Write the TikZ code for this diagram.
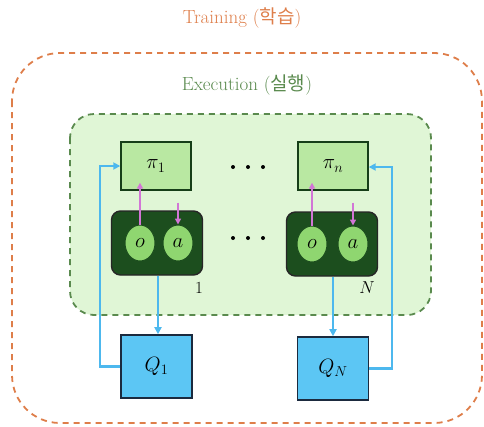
\documentclass[tikz,border=0pt]{standalone}
\usepackage{fontspec}
\newfontfamily\krfont{Noto Sans CJK KR}
\usetikzlibrary{arrows.meta,shapes.geometric}
\definecolor{trainorange}{HTML}{DE7E4A}
\definecolor{execgreen}{HTML}{5A8A4E}
\definecolor{execfill}{HTML}{E0F6D6}
\definecolor{polfill}{HTML}{B9E8A2}
\definecolor{envdark}{HTML}{1C4E1E}
\definecolor{obsfill}{HTML}{8FD670}
\definecolor{linkpink}{HTML}{D276D6}
\definecolor{linkblue}{HTML}{4DB8EE}
\definecolor{qfill}{HTML}{5CC6F4}
\definecolor{qedge}{HTML}{1B2A3E}
\begin{document}
\begin{tikzpicture}[x=1pt,y=-1pt,
  policy/.style={draw=envdark!80!black, line width=1.4pt, fill=polfill, minimum width=70pt, minimum height=48pt, inner sep=0pt, font=\fontsize{21}{24}\selectfont},
  envbox/.style={draw=black!85, line width=1.4pt, fill=envdark, rounded corners=9pt, minimum width=91pt, minimum height=64pt, inner sep=0pt},
  slot/.style={ellipse, draw=envdark, line width=1pt, fill=obsfill, minimum width=30pt, minimum height=36pt, inner sep=0pt, font=\fontsize{22}{24}\selectfont},
  critic/.style={draw=qedge, line width=1.6pt, fill=qfill, minimum width=71pt, minimum height=63pt, inner sep=0pt, font=\fontsize{21}{24}\selectfont},
  msg/.style={draw=linkpink, line width=2pt, -{Triangle[length=6pt,width=6pt]}},
  feed/.style={draw=linkblue, line width=2.4pt, -{Triangle[length=7pt,width=7pt]}},
  dotmark/.style={circle, fill=black, inner sep=0pt, minimum size=4pt}]
\useasboundingbox (0,0) rectangle (484,426);
% outer training region
\draw[trainorange, line width=1.8pt, dash pattern=on 6pt off 5pt, rounded corners=48pt] (12,53) rectangle (482,423);
\node[text=trainorange, font=\fontsize{19}{22}\selectfont] (train) at (242,18) {Training ({\krfont 학습})};
% execution region
\draw[execgreen, line width=1.8pt, dash pattern=on 6pt off 5pt, fill=execfill, rounded corners=24pt] (70,114) rectangle (431,315);
\node[text=execgreen, font=\fontsize{19}{22}\selectfont] (exec) at (247,85) {Execution ({\krfont 실행})};
% agent 1
\node[policy] (pi1) at (156,166) {$\pi_1$};
\node[envbox] (env1) at (157,243) {};
\node[slot] (o1) at (140,243) {$o$};
\node[slot] (a1) at (178,243) {$a$};
\node[font=\fontsize{17}{20}\selectfont] (n1) at (199,288) {1};
% agent N
\node[policy] (pin) at (333,166) {$\pi_n$};
\node[envbox] (envn) at (332,244) {};
\node[slot] (on) at (312,244) {$o$};
\node[slot] (an) at (353,244) {$a$};
\node[font=\fontsize{17}{20}\selectfont] (nn) at (367,288) {$N$};
% ellipsis dots
\foreach \i/\x in {1/233,2/248,3/263} {
  \node[dotmark] (dtop\i) at (\x,167) {};
  \node[dotmark] (dbot\i) at (\x,238) {};
}
% critics
\node[critic] (q1) at (156.5,366.5) {$Q_1$};
\node[critic] (qn) at (333,368.5) {$Q_N$};
% observation / action messages
\draw[msg] (o1.north) -- ([yshift=8pt]o1.north |- pi1.south);
\draw[msg] ([yshift=-12pt]a1.north |- pi1.south) -- (a1.north);
\draw[msg] (on.north) -- ([yshift=8pt]on.north |- pin.south);
\draw[msg] ([yshift=-12pt]an.north |- pin.south) -- (an.north);
% experience to critics
\draw[feed] (env1.south -| q1.north) ++(1.5,0) coordinate (s1) -- (s1 |- q1.north);
\draw[feed] (envn.south -| qn.north) coordinate (sn) -- (sn |- qn.north);
% critic feedback to policies
\draw[feed] (q1.west) -- (100,366.5) |- (pi1.west);
\draw[feed] (qn.east) -- (392,368.5) |- ([yshift=-1pt]pin.east);
\end{tikzpicture}
\end{document}
